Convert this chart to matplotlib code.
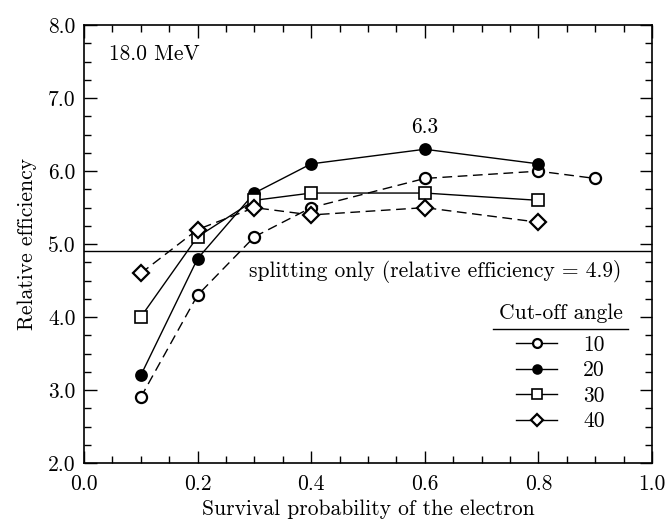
import numpy as np
import matplotlib.pyplot as plt
from matplotlib.ticker import MultipleLocator
from matplotlib.lines import Line2D

plt.rcParams['font.family'] = ['cmr10', 'DejaVu Serif']
plt.rcParams['mathtext.fontset'] = 'cm'
plt.rcParams['axes.formatter.use_mathtext'] = True

# survival probability and relative efficiency per cut-off angle
x10 = [0.1, 0.2, 0.3, 0.4, 0.6, 0.8, 0.9]
y10 = [2.9, 4.3, 5.1, 5.5, 5.9, 6.0, 5.9]
x20 = [0.1, 0.2, 0.3, 0.4, 0.6, 0.8]
y20 = [3.2, 4.8, 5.7, 6.1, 6.3, 6.1]
x30 = [0.1, 0.2, 0.3, 0.4, 0.6, 0.8]
y30 = [4.0, 5.1, 5.6, 5.7, 5.7, 5.6]
x40 = [0.1, 0.2, 0.3, 0.4, 0.6, 0.8]
y40 = [4.6, 5.2, 5.5, 5.4, 5.5, 5.3]
angles = ['10', '20', '30', '40']
splitting_only = 4.9

fs = 15.5
fig = plt.figure(figsize=(6.66, 5.25), dpi=100)
ax = fig.add_axes([0.126, 0.118, 0.853, 0.834])

dash = (0, (7, 4))
styles = [
    dict(marker='o', ms=8, mfc='white', mew=1.6),
    dict(marker='o', ms=8, mfc='k', mew=1.2),
    dict(marker='s', ms=9, mfc='white', mew=1.2),
    dict(marker='D', ms=8, mfc='white', mew=1.6),
]
ax.axhline(splitting_only, color='k', lw=1.0)
ax.plot(x10, y10, color='k', ls=dash, lw=1.0, mec='k', **styles[0])
ax.plot(x20, y20, color='k', ls='-', lw=1.0, mec='k', **styles[1])
ax.plot(x30, y30, color='k', ls='-', lw=1.0, mec='k', **styles[2])
ax.plot(x40, y40, color='k', ls=dash, lw=1.0, mec='k', **styles[3])

ax.set_xlim(0, 1)
ax.set_ylim(2, 8)
ax.xaxis.set_major_locator(MultipleLocator(0.2))
ax.xaxis.set_minor_locator(MultipleLocator(0.05))
ax.yaxis.set_major_locator(MultipleLocator(1.0))
ax.yaxis.set_minor_locator(MultipleLocator(0.25))
ax.xaxis.set_major_formatter(plt.FuncFormatter(lambda v, p: '%.1f' % v))
ax.yaxis.set_major_formatter(plt.FuncFormatter(lambda v, p: '%.1f' % v))
ax.tick_params(which='both', direction='in', top=True, right=True, labelsize=fs)
ax.tick_params(axis='x', which='major', pad=8)
ax.tick_params(axis='y', which='major', pad=6)
ax.tick_params(which='major', length=9, width=1.0)
ax.tick_params(which='minor', length=5, width=1.0)
for s in ax.spines.values():
    s.set_linewidth(1.2)

ax.set_xlabel('Survival probability of the electron', fontsize=fs, labelpad=4)
ax.set_ylabel('Relative efficiency', fontsize=fs, labelpad=8)

ax.text(0.045, 7.6, '18.0 MeV', fontsize=fs, va='center', ha='left')
ax.text(0.6, 6.6, '6.3', fontsize=fs, va='center', ha='center')
ax.text(0.29, 4.62, 'splitting only (relative efficiency = 4.9)', fontsize=fs,
        va='center', ha='left')

# legend: all handles drawn with solid lines
handles = [Line2D([], [], color='k', ls='-', lw=1.0, mec='k',
                  **dict(st, ms=st['ms'] * 0.8)) for st in styles]
leg = ax.legend(handles, angles, title='Cut-off angle', frameon=False,
                fontsize=fs, title_fontsize=fs, loc='upper left',
                bbox_to_anchor=(0.73, 0.365), handlelength=1.9,
                labelspacing=0.28, handletextpad=1.2,
                borderpad=0, borderaxespad=0)
leg._legend_box.sep = 9
fig.canvas.draw()
tb = leg.get_title().get_window_extent().transformed(ax.transAxes.inverted())
ax.plot([tb.x0 - 0.01, tb.x1 + 0.01], [tb.y0 - 0.014, tb.y0 - 0.014],
        color='k', lw=1.0, transform=ax.transAxes, clip_on=False)

fig.savefig('out.png', dpi=100)
